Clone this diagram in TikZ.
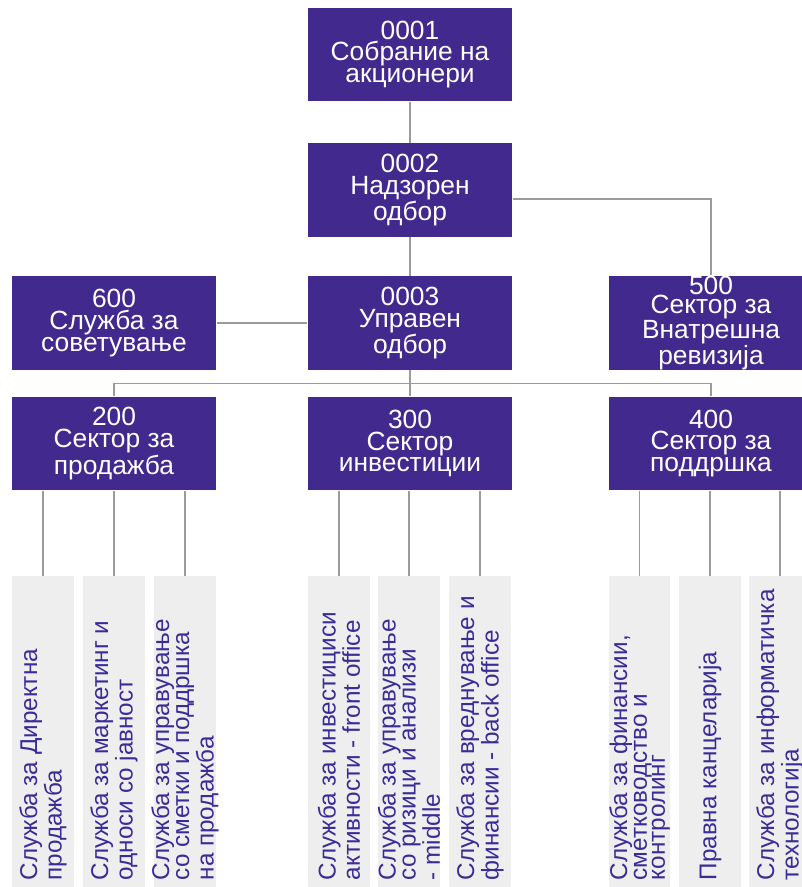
\documentclass[tikz,border=0pt]{standalone}
\usepackage{fontspec}
\setmainfont{Liberation Sans}
\usetikzlibrary{positioning, calc}
\definecolor{board}{RGB}{66,41,141}
\definecolor{leafgray}{RGB}{238,238,238}
\definecolor{leafink}{RGB}{58,44,150}
\definecolor{linkgray}{RGB}{155,155,155}

\tikzset{
  unit/.style={fill=board, text=white, minimum width=4.1cm, minimum height=1.87cm, inner sep=0pt, align=center, font=\fontsize{15}{12.4}\selectfont},
  leaf/.style={fill=leafgray, anchor=north, minimum width=1.24cm, minimum height=6.3cm, inner sep=0pt},
  leaflabel/.style={text=leafink, rotate=90, anchor=west, inner xsep=0.22cm, inner ysep=0pt, align=left, font=\fontsize{13.8}{10.2}\selectfont},
  link/.style={draw=linkgray, line width=0.8pt}
}

\begin{document}
\begin{tikzpicture}[x=0.02cm, y=-0.02cm]
  \clip (0,0) rectangle (802,887);
  \fill[white] (0,0) rectangle (802,887);

  % boards
  \node[unit] (n0001) at (410,54.5) {0001\\Собрание на\\акционери};
  \node[unit] (n0002) at (410,190) {0002\\Надзорен\\одбор};
  \node[unit] (n0003) at (410,323) {0003\\Управен\\одбор};
  \node[unit] (n600) at (114,323) {600\\Служба за\\советување};
  \node[unit, font=\fontsize{15}{10.9}\selectfont] (n500) at (711,323) {500\\Сектор за\\Внатрешна\\ревизија};

  % sectors
  \node[unit] (n200) at (114,443.5) {200\\Сектор за\\продажба};
  \node[unit] (n300) at (410,443.5) {300\\Сектор\\инвестиции};
  \node[unit] (n400) at (711,443.5) {400\\Сектор за\\поддршка};

  % services
  \node[leaf] (l201) at (43,576) {};
  \node[leaf] (l202) at (114,576) {};
  \node[leaf] (l203) at (185,576) {};
  \node[leaf] (l301) at (339,576) {};
  \node[leaf] (l302) at (409,576) {};
  \node[leaf] (l303) at (480,576) {};
  \node[leaf] (l401) at (639.5,576) {};
  \node[leaf] (l402) at (710,576) {};
  \node[leaf] (l403) at (780,576) {};

  \node[leaflabel] (t201) at (l201.south) {Служба за Директна\\продажба};
  \node[leaflabel] (t202) at (l202.south) {Служба за маркетинг и\\односи со јавност};
  \node[leaflabel] (t203) at (l203.south) {Служба за управување\\со сметки и поддршка\\на продажба};
  \node[leaflabel] (t301) at (l301.south) {Служба за инвестициси\\активности - front office};
  \node[leaflabel] (t302) at (l302.south) {Служба за управување\\со ризици и анализи\\- middle};
  \node[leaflabel] (t303) at (l303.south) {Служба за вреднување и\\финансии - back office};
  \node[leaflabel] (t401) at (l401.south) {Служба за финансии,\\сметководство и\\контролинг};
  \node[leaflabel] (t402) at (l402.south) {Правна канцеларија};
  \node[leaflabel] (t403) at (l403.south) {Служба за информатичка\\технологија};

  % links
  \draw[link] (n0001) -- (n0002);
  \draw[link] (n0002) -- (n0003);
  \draw[link] ([yshift=-0.18cm]n0002.east) -| (n500.north);
  \draw[link] (n600) -- (n0003);
  \draw[link] (n0003.south) -- (n300.north);
  \draw[link] (n200.north) |- ($(n0003.south)!0.5!(n300.north)$) -| (n400.north);
  \foreach \s/\p in {l201/n200, l202/n200, l203/n200, l301/n300, l302/n300, l303/n300, l401/n400, l402/n400, l403/n400}
    \draw[link] (\s.north |- \p.south) -- (\s.north);
\end{tikzpicture}
\end{document}
